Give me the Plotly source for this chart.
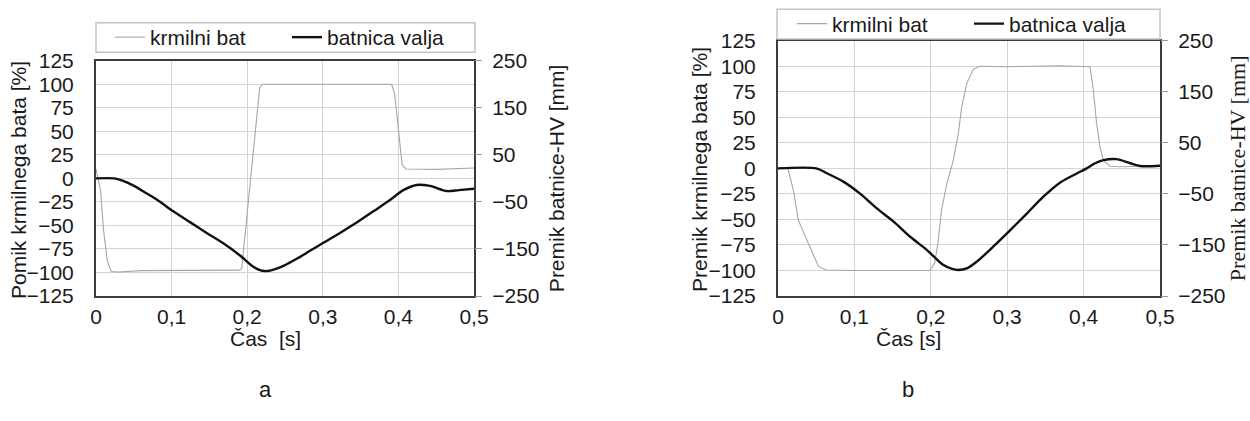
import plotly.graph_objects as go

# ---------------- data ----------------
# chart a
t_krm_a = [0, 0.006, 0.010, 0.015, 0.020, 0.030, 0.060, 0.190, 0.1927, 0.200, 0.210, 0.2165, 0.220,
           0.300, 0.391, 0.395, 0.399, 0.402, 0.405, 0.410, 0.450, 0.500]
krm_a = [10, -13, -55, -88, -99, -99.5, -98, -97.5, -96, -37, 44, 96, 100,
         100, 100, 90, 60, 30, 14, 10, 9.5, 11]

t_bat_a = [0, 0.024, 0.035, 0.049, 0.065, 0.0803, 0.1022, 0.1243, 0.1464, 0.1684, 0.1905, 0.2081,
           0.2169, 0.2230, 0.2302, 0.2478, 0.2655, 0.2830, 0.3007, 0.3228, 0.3448, 0.3669, 0.3889,
           0.4065, 0.4242, 0.4418, 0.4639, 0.480, 0.500]
bat_a = [0, 0, -5, -15, -30, -45, -70, -93, -116, -138, -164, -188,
         -195, -197, -196, -186, -171, -154, -137, -116, -94, -70, -46,
         -25, -14, -16, -27, -25, -22]

# chart b
t_krm_b = [0, 0.013, 0.020, 0.0266, 0.033, 0.042, 0.053, 0.063, 0.100, 0.199, 0.205, 0.2094, 0.214,
           0.221, 0.2295, 0.236, 0.2404, 0.247, 0.2556, 0.264, 0.300, 0.370, 0.4084, 0.4127, 0.417,
           0.4215, 0.4258, 0.4346, 0.447, 0.470, 0.500]
krm_b = [0, 0, -21, -50.6, -62, -76.7, -96, -99.5, -100, -100, -93, -73, -41,
         -15, 8, 34, 60, 83, 97, 100, 99.5, 100.5, 99.5, 77, 44,
         21, 8, 2, 1.5, 2, 2.5]

t_bat_b = [0, 0.050, 0.064, 0.0855, 0.107, 0.129, 0.151, 0.173, 0.195, 0.216, 0.228, 0.236, 0.247,
           0.260, 0.282, 0.304, 0.326, 0.347, 0.369, 0.391, 0.404, 0.415, 0.426, 0.443, 0.461,
           0.474, 0.500]
bat_b = [0, 0, -9.6, -26, -49, -78, -104, -134, -160, -189, -197, -199, -196,
         -183, -153, -121, -88, -56, -28, -10, 0, 10, 16, 18, 10,
         4.6, 5.2]

pct_ticks = [-125, -100, -75, -50, -25, 0, 25, 50, 75, 100, 125]
mm_ticks = [-250, -150, -50, 50, 150, 250]
x_ticks = [0, 0.1, 0.2, 0.3, 0.4, 0.5]

# ---------------- layout helpers ----------------
W, H = 1250, 421
def px(x):
    return x / W
def py(y):
    return 1 - y / H

SANS = "Liberation Sans, Arial, sans-serif"
SERIF = "Liberation Serif, Times New Roman, serif"
TXT = "#1a1a1a"
GRID = "#d4d4d4"
FRAME = "#3c3c3c"
GRAY_LINE = "#a6a6a6"
FS = 21

fig = go.Figure()

fig.add_trace(go.Scatter(x=t_krm_a, y=krm_a, mode="lines", name="krmilni bat",
                         line=dict(color=GRAY_LINE, width=1.1), xaxis="x", yaxis="y",
                         legend="legend"))
fig.add_trace(go.Scatter(x=t_bat_a, y=bat_a, mode="lines", name="batnica valja",
                         line=dict(color="#111111", width=2.4, shape="spline", smoothing=0.8),
                         xaxis="x", yaxis="y2", legend="legend"))
fig.add_trace(go.Scatter(x=t_krm_b, y=krm_b, mode="lines", name="krmilni bat",
                         line=dict(color=GRAY_LINE, width=1.1), xaxis="x2", yaxis="y3",
                         legend="legend2"))
fig.add_trace(go.Scatter(x=t_bat_b, y=bat_b, mode="lines", name="batnica valja",
                         line=dict(color="#111111", width=2.4, shape="spline", smoothing=0.8),
                         xaxis="x2", yaxis="y4", legend="legend2"))

A_X = [px(96), px(474)]
A_Y = [py(296), py(60.7)]
B_X = [px(778), px(1160)]
B_Y = [py(296), py(40.7)]

def xaxis(domain, anchor):
    return dict(domain=domain, anchor=anchor, range=[0, 0.5], tickvals=x_ticks,
                showgrid=True, gridcolor=GRID, gridwidth=1, zeroline=False,
                showline=True, linecolor=FRAME, linewidth=2, mirror=True,
                ticks="", ticklabelstandoff=1, automargin=False,
                tickfont=dict(family=SANS, size=FS, color=TXT), fixedrange=True)

def yleft(domain, anchor):
    return dict(domain=domain, anchor=anchor, range=[-125, 125], tickvals=pct_ticks,
                showgrid=True, gridcolor=GRID, gridwidth=1, zeroline=False,
                showline=True, linecolor=FRAME, linewidth=2, mirror=True,
                ticks="", ticklabelstandoff=16, automargin=False,
                tickfont=dict(family=SANS, size=FS, color=TXT))

def yright(anchor, overlay, title, fam, fsize, standoff):
    return dict(anchor=anchor, overlaying=overlay, side="right", range=[-250, 250],
                tickvals=mm_ticks, showgrid=False, zeroline=False, showline=False,
                ticks="outside", ticklen=7, tickcolor="#9a9a9a", tickwidth=1,
                ticklabelstandoff=6, automargin=False,
                tickfont=dict(family=SANS, size=FS, color=TXT),
                title=dict(text=title, font=dict(family=fam, size=fsize, color=TXT), standoff=standoff))

def legend_box(x0, x1, y0, y1):
    return dict(type="rect", xref="paper", yref="paper", x0=px(x0), x1=px(x1),
                y0=py(y1), y1=py(y0), line=dict(color="#c4c4c4", width=1.5),
                fillcolor="rgba(0,0,0,0)")

def legend(x_text, y_mid):
    return dict(orientation="h", x=px(x_text - 40), xanchor="left", y=py(y_mid), yanchor="middle",
                bgcolor="rgba(0,0,0,0)", borderwidth=0, entrywidth=132, entrywidthmode="pixels",
                font=dict(family=SANS, size=FS, color=TXT), itemclick=False, itemdoubleclick=False)

def note(text, x, y, size, angle=0):
    return dict(text=text, x=px(x), y=py(y), xref="paper", yref="paper",
                xanchor="center", yanchor="middle", showarrow=False, textangle=angle,
                font=dict(family=SANS, size=size, color=TXT))

fig.update_layout(
    width=W, height=H, margin=dict(l=0, r=0, t=0, b=0, autoexpand=False),
    paper_bgcolor="white", plot_bgcolor="white",
    separators=",.",
    xaxis=xaxis(A_X, "y"),
    yaxis=yleft(A_Y, "x"),
    yaxis2=yright("x", "y", "Premik batnice-HV [mm]", SANS, FS, 10),
    xaxis2=xaxis(B_X, "y3"),
    yaxis3=yleft(B_Y, "x2"),
    yaxis4=yright("x2", "y3", "Premik batnice-HV [mm]", SERIF, 22, 10),
    legend=legend(150, 37.5),
    legend2=legend(832, 24),
    shapes=[legend_box(96, 475, 22.7, 52.3), legend_box(777, 1160, 9.3, 39)],
    annotations=[
        note("Pomik krmilnega bata [%]", 18, 180, FS, -90),
        note("Premik krmilnega bata [%]", 699, 170, FS, -90),
        note("Čas  [s]", 265, 338, FS),
        note("Čas [s]", 908, 338, FS),
        note("a", 265, 389, 22),
        note("b", 908, 389, 22),
    ],
)

fig.write_html("out.html")
